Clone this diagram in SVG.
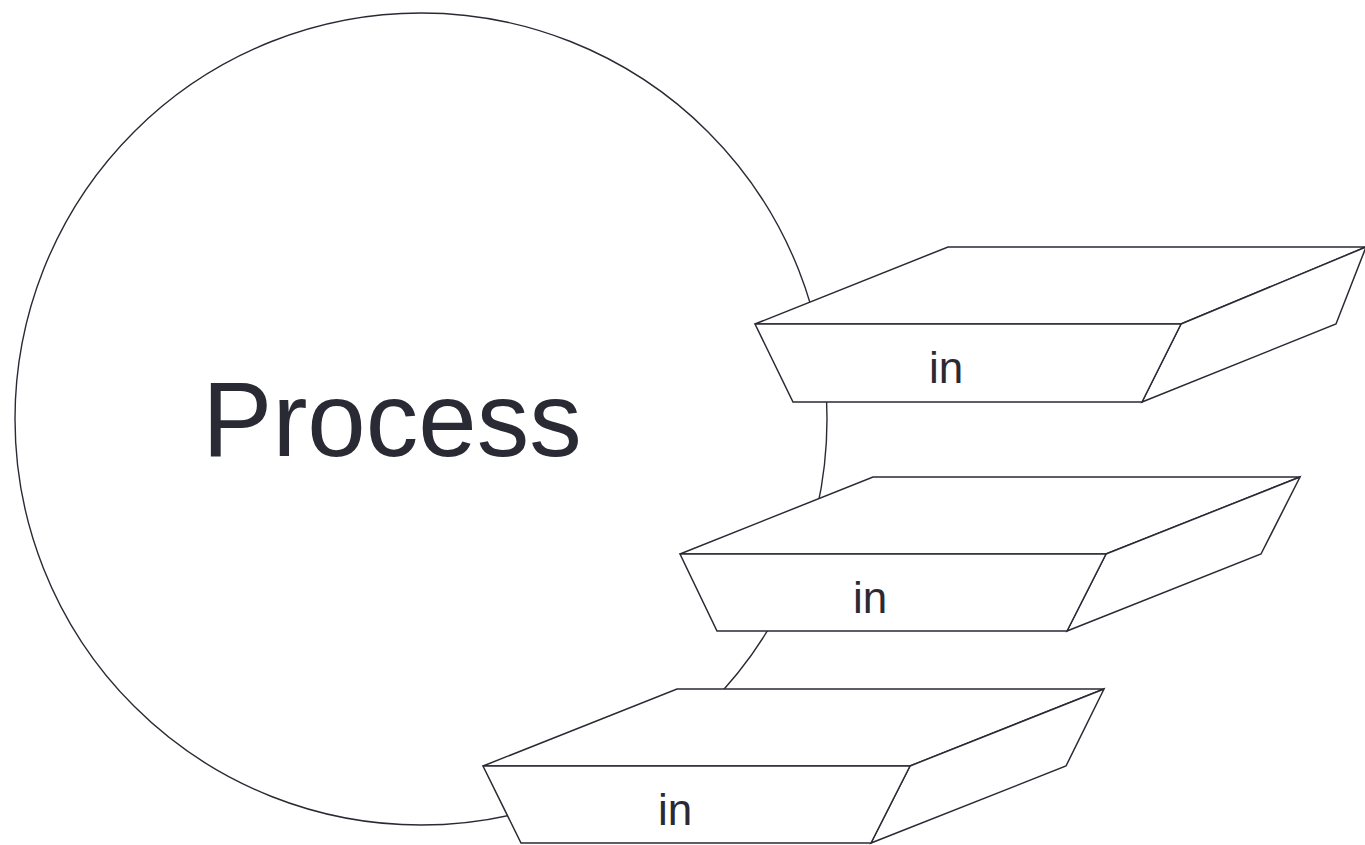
<svg xmlns="http://www.w3.org/2000/svg" width="1365" height="845" viewBox="0 0 1365 845">
<style>
.bg{fill:#ffffff}
.proc{fill:#ffffff;stroke:#2a2a35;stroke-width:1.4}
.face{fill:#ffffff;stroke:#2a2a35;stroke-width:1.5;stroke-linejoin:miter}
.lbl{font-family:"Liberation Sans",Arial,sans-serif;fill:#2a2a35;text-anchor:middle}
.big{font-size:105px}
.small{font-size:44px}
</style>
<rect class="bg" x="0" y="0" width="1365" height="845"/>
<g id="process">
  <circle class="proc" cx="421" cy="419" r="406"/>
  <text class="lbl big" x="392" y="456">Process</text>
</g>
<g id="connectors"/>
<g id="port1">
  <polygon class="face" points="755,324 948,247 1366,247 1181,324"/>
  <polygon class="face" points="1181,324 1366,247 1336,324 1142,402"/>
  <polygon class="face" points="755,324 1181,324 1142,402 793,402"/>
  <text class="lbl small" x="946" y="383">in</text>
</g>
<g id="port2">
  <polygon class="face" points="680,554 873,477 1300,477 1106,554"/>
  <polygon class="face" points="1106,554 1300,477 1261,554 1067,631"/>
  <polygon class="face" points="680,554 1106,554 1067,631 717,631"/>
  <text class="lbl small" x="870" y="613">in</text>
</g>
<g id="port3">
  <polygon class="face" points="483,766 677,689 1104,689 910,766"/>
  <polygon class="face" points="910,766 1104,689 1066,766 871,843"/>
  <polygon class="face" points="483,766 910,766 871,843 521,843"/>
  <text class="lbl small" x="675" y="825">in</text>
</g>
</svg>
